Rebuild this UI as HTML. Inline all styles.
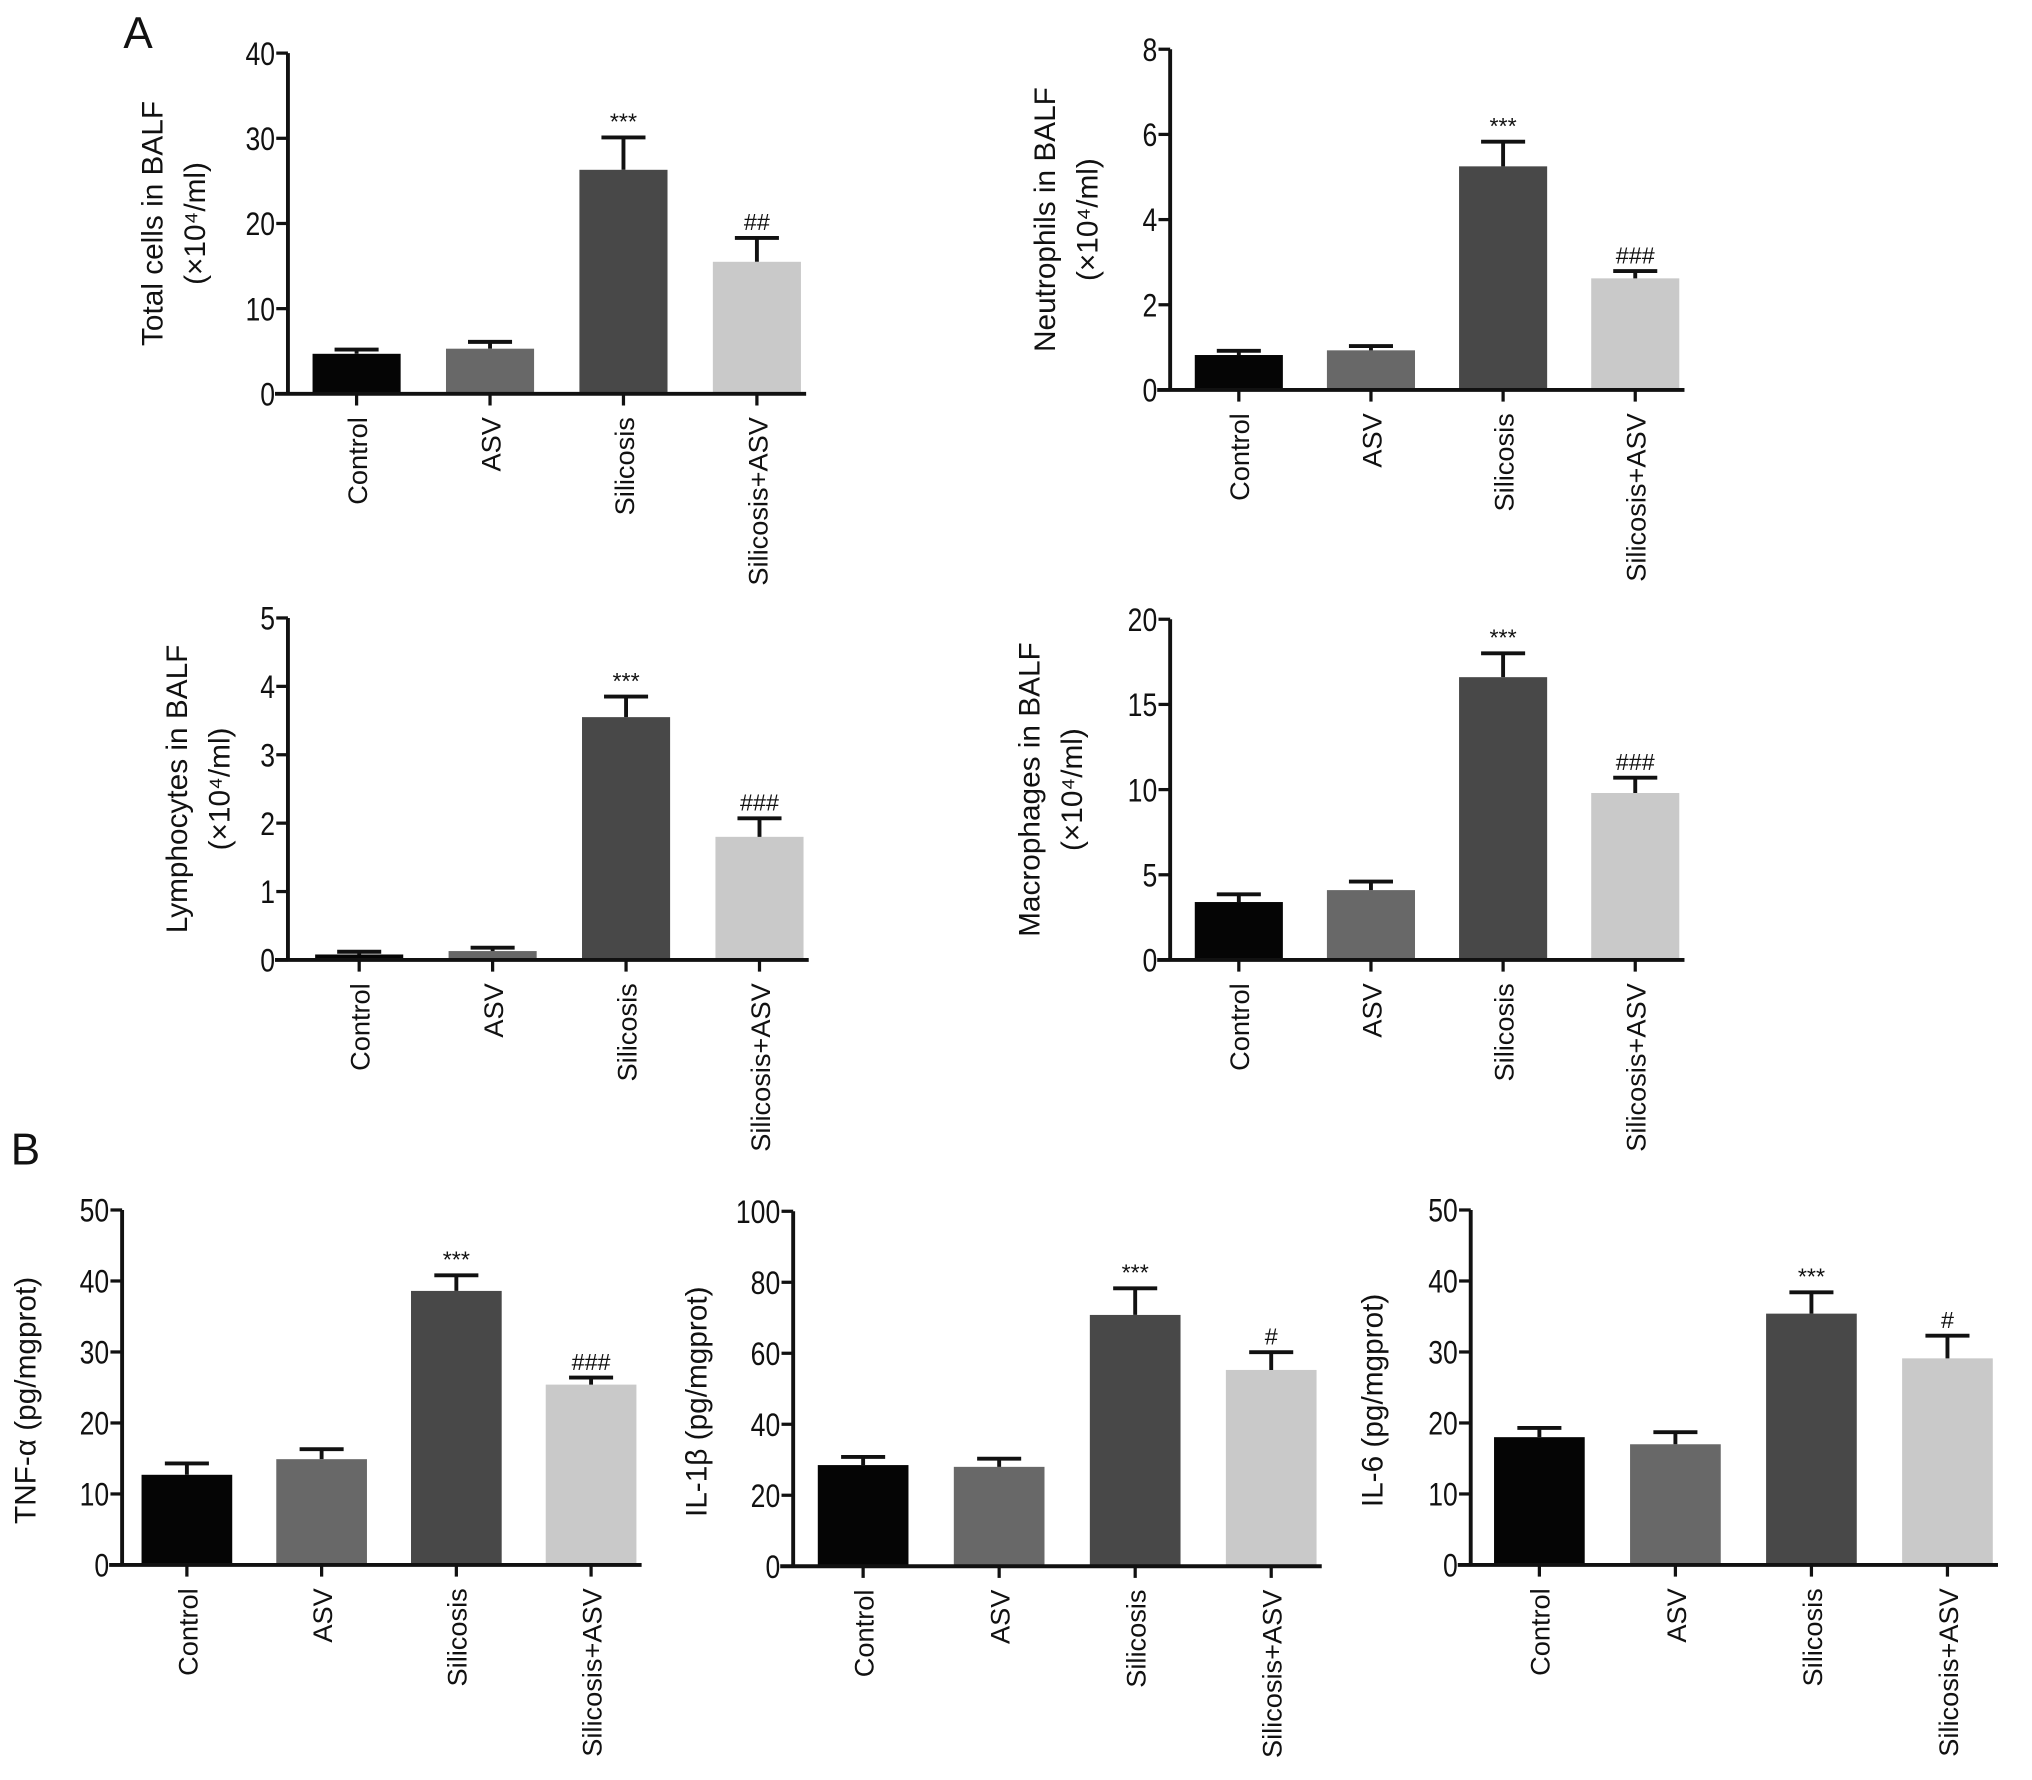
<!DOCTYPE html>
<html><head><meta charset="utf-8"><style>
html,body{margin:0;padding:0;background:#fff}
svg{display:block}
text{font-family:"Liberation Sans",sans-serif;fill:#111}
</style></head><body>
<svg id="fig" width="2032" height="1780" viewBox="0 0 1568 1374" xmlns="http://www.w3.org/2000/svg">
<text x="95" y="37" font-size="34">A</text>
<text x="8" y="899" font-size="34">B</text>
</svg>
<script>
const categories = ["Control","ASV","Silicosis","Silicosis+ASV"];
const totalVals = [4.7, 5.3, 26.3, 15.5];
const totalErr = [0.5, 0.8, 3.8, 2.8];
const totalSig = ["", "", "***", "##"];
const totalTicks = [0, 10, 20, 30, 40];
const neutVals = [0.82, 0.93, 5.25, 2.62];
const neutErr = [0.1, 0.1, 0.58, 0.17];
const neutSig = ["", "", "***", "###"];
const neutTicks = [0, 2, 4, 6, 8];
const lymphVals = [0.08, 0.13, 3.55, 1.8];
const lymphErr = [0.04, 0.05, 0.3, 0.27];
const lymphSig = ["", "", "***", "###"];
const lymphTicks = [0, 1, 2, 3, 4, 5];
const macroVals = [3.4, 4.1, 16.6, 9.8];
const macroErr = [0.45, 0.5, 1.4, 0.9];
const macroSig = ["", "", "***", "###"];
const macroTicks = [0, 5, 10, 15, 20];
const tnfVals = [12.7, 14.9, 38.6, 25.4];
const tnfErr = [1.6, 1.4, 2.2, 1.0];
const tnfSig = ["", "", "***", "###"];
const tnfTicks = [0, 10, 20, 30, 40, 50];
const il1Vals = [28.5, 28.0, 70.8, 55.3];
const il1Err = [2.3, 2.3, 7.5, 5.0];
const il1Sig = ["", "", "***", "#"];
const il1Ticks = [0, 20, 40, 60, 80, 100];
const il6Vals = [18.0, 17.0, 35.4, 29.1];
const il6Err = [1.3, 1.7, 3.0, 3.2];
const il6Sig = ["", "", "***", "#"];
const il6Ticks = [0, 10, 20, 30, 40, 50];
const colors = ["#050505","#686868","#484848","#c9c9c9"];

const NS = "http://www.w3.org/2000/svg";
const svg = document.getElementById("fig");
function mk(tag, attrs, parent){
  const e = document.createElementNS(NS, tag);
  for (const k in attrs) e.setAttribute(k, attrs[k]);
  (parent||svg).appendChild(e);
  return e;
}
const panels = [
  {name:"total-cells", ax:222, yTop:41, y0:304, x0:275, step:103, bw:68, vals:totalVals, err:totalErr, sig:totalSig, ticks:totalTicks, labels:["Total cells in BALF","(×10\u2074/ml)"], lx:[125,158]},
  {name:"neutrophils", ax:903, yTop:38, y0:301, x0:956, step:102, bw:68, vals:neutVals, err:neutErr, sig:neutSig, ticks:neutTicks, labels:["Neutrophils in BALF","(×10\u2074/ml)"], lx:[814,847]},
  {name:"lymphocytes", ax:222, yTop:477, y0:741, x0:277, step:103, bw:68, vals:lymphVals, err:lymphErr, sig:lymphSig, ticks:lymphTicks, labels:["Lymphocytes in BALF","(×10\u2074/ml)"], lx:[144,177]},
  {name:"macrophages", ax:903, yTop:478, y0:741, x0:956, step:102, bw:68, vals:macroVals, err:macroErr, sig:macroSig, ticks:macroTicks, labels:["Macrophages in BALF","(×10\u2074/ml)"], lx:[802,835]},
  {name:"tnf-alpha", ax:94, yTop:934, y0:1208, x0:144, step:104, bw:70, vals:tnfVals, err:tnfErr, sig:tnfSig, ticks:tnfTicks, labels:["TNF-\u03b1 (pg/mgprot)"], lx:[27]},
  {name:"il-1beta", ax:612, yTop:935, y0:1209, x0:666, step:105, bw:70, vals:il1Vals, err:il1Err, sig:il1Sig, ticks:il1Ticks, labels:["IL-1\u03b2 (pg/mgprot)"], lx:[545]},
  {name:"il-6", ax:1135, yTop:934, y0:1208, x0:1188, step:105, bw:70, vals:il6Vals, err:il6Err, sig:il6Sig, ticks:il6Ticks, labels:["IL-6 (pg/mgprot)"], lx:[1067]}
];
panels.forEach(p => {
  const g = mk("g", {});
  
  
  const maxV = p.ticks[p.ticks.length-1];
  const y = v => p.y0 - (v / maxV) * (p.y0 - p.yTop);
  const x = i => p.x0 + i * p.step;
  p.vals.forEach((v, i) => {
    const cx = x(i);
    const top = y(v), eTop = y(v + p.err[i]);
    const r = mk("rect", {x: cx - p.bw/2, y: top, width: p.bw, height: p.y0 - top, fill: colors[i]}, g);
    
    
    const eb = mk("path", {d: `M${cx} ${top}V${eTop}M${cx-17} ${eTop}H${cx+17}`, stroke:"#111", "stroke-width":3, fill:"none"}, g);
    
    
    if (p.sig[i]) {
      const t = mk("text", {x: cx, y: eTop - 6, "font-size": 18, "text-anchor":"middle"}, g);
      t.textContent = p.sig[i];
      
      
    }
    const tk = mk("line", {x1: cx, x2: cx, y1: p.y0, y2: p.y0 + 9, stroke:"#111", "stroke-width":2.5}, g);
    
    
    const lab = mk("text", {x: 0, y: 0, "font-size": 21, "text-anchor":"end", transform:`translate(${cx+8},${p.y0+18}) rotate(-90)`}, g);
    lab.textContent = categories[i];
    
    
  });
  const xl = x(3) + p.bw/2 + 4;
  const axes = mk("path", {d:`M${p.ax} ${p.yTop}V${p.y0}M${p.ax-10} ${p.y0}H${xl}`, stroke:"#111","stroke-width":3,fill:"none"}, g);
  
  
  p.ticks.forEach(t => {
    const ty = y(t);
    const l = mk("line", {x1:p.ax-9, x2:p.ax, y1:ty, y2:ty, stroke:"#111","stroke-width":2.5}, g);
    
    
    const tl = mk("text", {x:0, y:0, "font-size":25, "text-anchor":"end", transform:`translate(${p.ax-10},${ty+9}) scale(0.82,1)`}, g);
    tl.textContent = t;
    
    
  });
  const cy = (p.yTop + p.y0) / 2 + (p.labels.length > 1 ? 0 : 10);
  p.labels.forEach((s, k) => {
    const t = mk("text", {x:0, y:0, "font-size":23, "text-anchor":"middle", transform:`translate(${p.lx[k]},${cy}) rotate(-90)`}, g);
    t.textContent = s;
    
    
  });
});
</script>
</body></html>
